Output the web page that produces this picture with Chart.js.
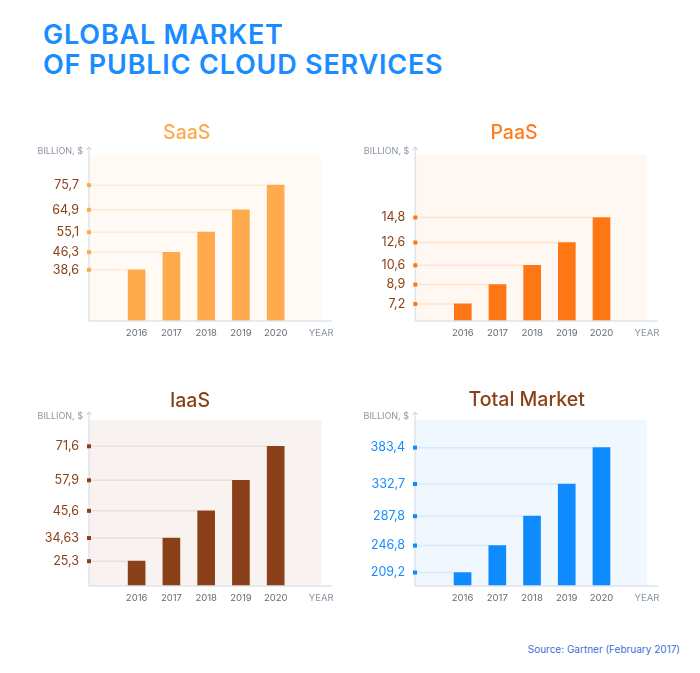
<!DOCTYPE html>
<html>
<head>
<meta charset="utf-8">
<script src="https://cdn.jsdelivr.net/npm/chart.js@4.4.1/dist/chart.umd.min.js"></script>
<style>
  body { margin: 0; background: #fff; }
  #page { position: relative; width: 700px; height: 673px; overflow: hidden; font-family: Inter, sans-serif; }
  .head { position: absolute; left: 43px; top: 20px; color: #1a8cff; font-weight: 600; font-size: 27px; line-height: 30px; letter-spacing: 0.8px; }
  .source { position: absolute; right: 20px; top: 643px; color: #3d6fd6; font-size: 10px; }
  canvas { position: absolute; }
</style>
</head>
<body>
<div id="page">
  <div class="head">GLOBAL MARKET<br>OF PUBLIC CLOUD SERVICES</div>
  <canvas id="saas" style="left:30px;top:110px;width:330px;height:240px"></canvas>
  <canvas id="paas" style="left:360px;top:110px;width:330px;height:240px"></canvas>
  <canvas id="iaas" style="left:30px;top:377px;width:330px;height:238px"></canvas>
  <canvas id="total" style="left:360px;top:377px;width:330px;height:238px"></canvas>
  <div class="source">Source: Gartner (February 2017)</div>
</div>
<script>
const years = [2016, 2017, 2018, 2019, 2020];
const saasValues = [38.6, 46.3, 55.1, 64.9, 75.7];
const paasValues = [7.2, 8.9, 10.6, 12.6, 14.8];
const iaasValues = [25.3, 34.63, 45.6, 57.9, 71.6];
const totalValues = [209.2, 246.8, 287.8, 332.7, 383.4];
const yearAxisLabel = 'YEAR';
const yAxisLabel = 'BILLION, $';

const X_MIN = 2014.63, X_MAX = 2021.62, X_END = 2021.31;

// title, backgrounds, guide lines, axes with arrow, dots on the axis
const decor = {
  id: 'decor',
  beforeDatasetsDraw(chart, args, o) {
    const { ctx, chartArea: a, scales } = chart;
    const right = scales.x.getPixelForValue(X_END);
    ctx.save();
    ctx.fillStyle = o.bg;
    ctx.fillRect(a.left, a.top, right - a.left, a.bottom - a.top);
    const meta = chart.getDatasetMeta(0);
    ctx.strokeStyle = o.guide;
    ctx.lineWidth = 1.5;
    meta.data.forEach(bar => {
      ctx.beginPath();
      ctx.moveTo(a.left, bar.y);
      ctx.lineTo(bar.x - bar.width / 2, bar.y);
      ctx.stroke();
    });
    ctx.restore();
  },
  afterDatasetsDraw(chart, args, o) {
    const { ctx, chartArea: a } = chart;
    ctx.save();
    ctx.strokeStyle = '#dfe3ea';
    ctx.lineWidth = 1.5;
    ctx.beginPath();
    ctx.moveTo(a.left, a.top - 8);
    ctx.lineTo(a.left, a.bottom);
    ctx.lineTo(a.right, a.bottom);
    ctx.stroke();
    ctx.strokeStyle = '#c5ccd6';
    ctx.lineWidth = 1;
    ctx.beginPath();
    ctx.moveTo(a.left - 2.5, a.top - 5);
    ctx.lineTo(a.left, a.top - 8);
    ctx.lineTo(a.left + 2.5, a.top - 5);
    ctx.stroke();
    ctx.fillStyle = o.dot;
    chart.getDatasetMeta(0).data.forEach(bar => {
      ctx.fillRect(a.left - 2, bar.y - 2, 4, 4);
    });
    ctx.fillStyle = '#8a96a6';
    ctx.font = '9px Inter, sans-serif';
    ctx.textAlign = 'right';
    ctx.textBaseline = 'middle';
    ctx.fillText(yAxisLabel, a.left - 6, a.top - 4);
    // chart title
    ctx.fillStyle = o.titleColor;
    ctx.font = '500 19.5px Inter, sans-serif';
    ctx.textAlign = 'center';
    ctx.fillText(o.title, o.titleX, o.titleY);
    ctx.restore();
  }
};

function makeChart(id, title, values, s) {
  return new Chart(document.getElementById(id), {
    type: 'bar',
    data: {
      datasets: [{
        data: years.map((y, i) => ({ x: y, y: values[i] })),
        backgroundColor: s.bar,
        barThickness: 17
      }]
    },
    options: {
      responsive: false,
      animation: false,
      layout: { padding: { left: 0, right: s.padRight, top: s.padTop, bottom: 0 } },
      plugins: {
        legend: { display: false },
        tooltip: { enabled: false },
        title: { display: false },
        decor: {
          bg: s.bg, guide: s.guide, dot: s.bar,
          title: title, titleColor: s.titleColor, titleX: s.titleX, titleY: s.titleY
        }
      },
      scales: {
        x: {
          type: 'linear',
          min: X_MIN,
          max: X_MAX,
          offset: false,
          grid: { display: false, drawTicks: false },
          border: { display: false },
          afterBuildTicks: sc => { sc.ticks = years.concat([X_END]).map(v => ({ value: v })); },
          afterFit: sc => { sc.height = 29; },
          ticks: {
            autoSkip: false,
            maxRotation: 0,
            padding: 6,
            font: { family: 'Inter', size: 9.5 },
            color: c => c.tick && c.tick.value > 2020.5 ? '#8a96a6' : '#666b73',
            callback: v => v > 2020.5 ? yearAxisLabel : String(v)
          }
        },
        y: {
          min: s.min,
          max: s.max,
          grid: { display: false, drawTicks: false },
          border: { display: false },
          afterBuildTicks: sc => { sc.ticks = values.map(v => ({ value: v })); },
          afterFit: sc => { sc.width = s.axisW; },
          ticks: {
            autoSkip: false,
            padding: 10,
            font: { family: 'Inter', size: 12.5 },
            color: s.tickColor,
            callback: v => String(v).replace('.', ',')
          }
        }
      }
    },
    plugins: [decor]
  });
}

const brown = '#8b4116';
makeChart('saas', 'SaaS', saasValues, {
  bar: '#ffaa4c', bg: '#fffaf4', guide: '#fdebd8', titleColor: '#ffa94d', tickColor: brown,
  min: 16.2, max: 88.9, axisW: 59, padRight: 28, padTop: 45, titleX: 156.7, titleY: 23
});
makeChart('paas', 'PaaS', paasValues, {
  bar: '#ff7614', bg: '#fff7f1', guide: '#fde3d0', titleColor: '#ff7a18', tickColor: brown,
  min: 5.7, max: 20.3, axisW: 55.3, padRight: 32.3, padTop: 45, titleX: 154, titleY: 23
});
makeChart('iaas', 'IaaS', iaasValues, {
  bar: '#8a4119', bg: '#f8f3f0', guide: '#eee0d8', titleColor: brown, tickColor: brown,
  min: 15.3, max: 82.2, axisW: 59, padRight: 28, padTop: 43, titleX: 160, titleY: 23.7
});
makeChart('total', 'Total Market', totalValues, {
  bar: '#0d8bff', bg: '#f1f7fe', guide: '#d7e9fd', titleColor: brown, tickColor: '#1a8cff',
  min: 190.4, max: 422, axisW: 55, padRight: 32.3, padTop: 43, titleX: 166.7, titleY: 23
});
</script>
</body>
</html>
